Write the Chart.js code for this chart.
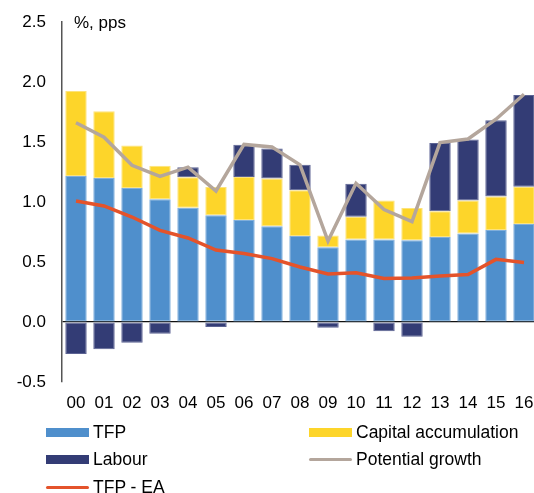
<!DOCTYPE html>
<html>
<head>
<meta charset="utf-8">
<script src="https://cdn.jsdelivr.net/npm/chart.js@4/dist/chart.umd.min.js"></script>
<style>
  html, body { margin: 0; padding: 0; overflow: hidden; background: #fff; width: 534px; height: 493px; }
  #wrap { position: absolute; left: 0; top: 0; width: 538px; height: 420px; }
  #legend { position: absolute; left: 0; top: 0; width: 534px; height: 493px; pointer-events: none;
            font-family: "Liberation Sans", Arial, sans-serif; font-size: 17.5px; color: #000; }
  .item { position: absolute; height: 20px; line-height: 20px; white-space: nowrap; }
  .sw { position: absolute; left: 0; width: 43px; }
  .lbl { position: absolute; left: 47px; top: 0; }
</style>
</head>
<body>
<div id="wrap"><canvas id="c" width="538" height="420"></canvas></div>
<div id="legend"></div>
<script>
const categories = ["00","01","02","03","04","05","06","07","08","09","10","11","12","13","14","15","16"];
const tfp = [1.217, 1.20, 1.117, 1.022, 0.953, 0.889, 0.85, 0.797, 0.717, 0.623, 0.687, 0.687, 0.681, 0.708, 0.737, 0.767, 0.817];
const capital = [0.708, 0.556, 0.353, 0.281, 0.253, 0.236, 0.358, 0.398, 0.381, 0.097, 0.191, 0.325, 0.269, 0.214, 0.275, 0.278, 0.311];
const labour = [-0.267, -0.228, -0.172, -0.097, 0.083, -0.042, 0.27, 0.25, 0.212, -0.047, 0.275, -0.078, -0.122, 0.57, 0.508, 0.636, 0.764];
const potentialGrowth = [1.66, 1.54, 1.306, 1.214, 1.29, 1.092, 1.48, 1.458, 1.31, 0.675, 1.156, 0.937, 0.837, 1.495, 1.525, 1.69, 1.898];
const tfpEA = [1.008, 0.967, 0.875, 0.764, 0.70, 0.60, 0.57, 0.528, 0.458, 0.40, 0.41, 0.362, 0.367, 0.383, 0.395, 0.522, 0.495];
const yTicks = [-0.5, 0.0, 0.5, 1.0, 1.5, 2.0, 2.5];
const unitLabel = "%, pps";

const FONT = '"Liberation Sans", Arial, sans-serif';
const COL = { tfp: '#4F8FCC', cap: '#FDD52A', lab: '#333C75', pg: '#B4A69C', ea: '#E4532B' };
const EDGE = { tfp: '#7FAEDB', cap: '#FDE37A', lab: '#5C6393' };

const unitPlugin = {
  id: 'unitLabel',
  afterDraw(chart) {
    const ctx = chart.ctx;
    const y = chart.scales.y.getPixelForValue(yTicks[yTicks.length - 1]);
    ctx.save();
    ctx.font = '17px ' + FONT;
    ctx.fillStyle = '#000';
    ctx.textBaseline = 'middle';
    ctx.textAlign = 'left';
    ctx.fillText(unitLabel, chart.chartArea.left + 12, y + 1);
    ctx.restore();
  }
};

const chart = new Chart(document.getElementById('c'), {
  type: 'bar',
  data: {
    labels: categories,
    datasets: [
      { type: 'line', label: 'Potential growth', data: potentialGrowth, borderColor: COL.pg, backgroundColor: COL.pg,
        borderWidth: 3.5, pointRadius: 0, tension: 0, order: 0, stack: 'l1' },
      { type: 'line', label: 'TFP - EA', data: tfpEA, borderColor: COL.ea, backgroundColor: COL.ea,
        borderWidth: 3.5, pointRadius: 0, tension: 0, order: 0, stack: 'l2' },
      { label: 'TFP', data: tfp, backgroundColor: COL.tfp, borderColor: EDGE.tfp, stack: 's', order: 1 },
      { label: 'Capital accumulation', data: capital, backgroundColor: COL.cap, borderColor: EDGE.cap, stack: 's', order: 1 },
      { label: 'Labour', data: labour, backgroundColor: COL.lab, borderColor: EDGE.lab, stack: 's', order: 1 }
    ]
  },
  options: {
    responsive: false,
    animation: false,
    devicePixelRatio: 1,
    layout: { padding: { top: 22, right: 0, bottom: 0, left: 0 } },
    datasets: { bar: { categoryPercentage: 1, barPercentage: 0.765, borderWidth: 1, borderSkipped: false } },
    plugins: { legend: { display: false }, tooltip: { enabled: false } },
    scales: {
      x: {
        stacked: true,
        offset: true,
        grid: { display: false, drawTicks: false },
        border: { display: false },
        ticks: { font: { size: 17, family: FONT }, color: '#000', padding: 11, maxRotation: 0, autoSkip: false },
        afterFit(s) { s.height = 38; s.paddingLeft = 0; s.paddingRight = 0; }
      },
      y: {
        stacked: true,
        min: yTicks[0], max: yTicks[yTicks.length - 1],
        afterBuildTicks(s) { s.ticks = yTicks.map(v => ({ value: v })); },
        grid: { display: true, drawTicks: false, lineWidth: 1.2,
                color: c => (c.tick && c.tick.value === 0) ? '#111' : 'rgba(0,0,0,0)' },
        border: { display: true, color: '#555', width: 1.5 },
        ticks: { font: { size: 17, family: FONT }, color: '#000', padding: 16,
                 callback: v => Number(v).toFixed(1) },
        afterFit(s) { s.width = 62; s.paddingTop = 0; s.paddingBottom = 0; }
      }
    }
  },
  plugins: [unitPlugin]
});

// Legend (two columns) built from the series labels / colors
const legendItems = [
  { label: 'TFP', color: COL.tfp, kind: 'box', x: 46, y: 432 },
  { label: 'Capital accumulation', color: COL.cap, kind: 'box', x: 309, y: 432 },
  { label: 'Labour', color: COL.lab, kind: 'box', x: 46, y: 459 },
  { label: 'Potential growth', color: COL.pg, kind: 'line', x: 309, y: 459 },
  { label: 'TFP - EA', color: COL.ea, kind: 'line', x: 46, y: 487 }
];
const lg = document.getElementById('legend');
legendItems.forEach(it => {
  const d = document.createElement('div');
  d.className = 'item';
  d.style.left = it.x + 'px';
  d.style.top = (it.y - 10) + 'px';
  const sw = document.createElement('div');
  sw.className = 'sw';
  sw.style.background = it.color;
  if (it.kind === 'box') { sw.style.height = '9px'; sw.style.top = '5.5px'; }
  else { sw.style.height = '3px'; sw.style.top = '8.5px'; sw.style.borderRadius = '1.5px'; }
  const t = document.createElement('div');
  t.className = 'lbl';
  t.textContent = it.label;
  d.appendChild(sw); d.appendChild(t);
  lg.appendChild(d);
});
</script>
</body>
</html>
